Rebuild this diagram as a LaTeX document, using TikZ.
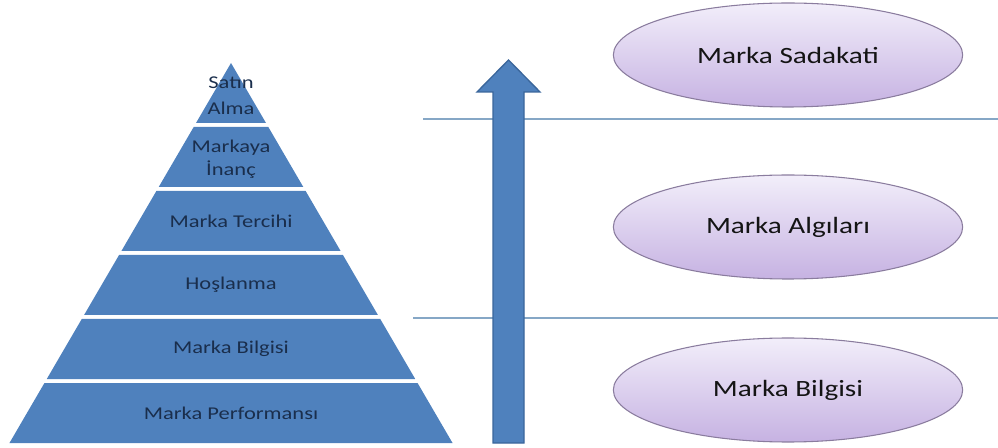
\documentclass[tikz,border=0pt]{standalone}
\usepackage{fontspec}
\setmainfont{Carlito}
\usetikzlibrary{shapes.geometric}
\definecolor{pyrblue}{HTML}{4F81BD}
\definecolor{pyredge}{HTML}{3A669B}
\definecolor{pyrink}{HTML}{1A2E4C}
\definecolor{sepblue}{HTML}{86A7C6}
\definecolor{lilactop}{HTML}{F2EEFA}
\definecolor{lilacbot}{HTML}{C6B2E2}
\definecolor{lilacedge}{HTML}{8A7C9E}
\newcommand{\wide}[1]{\scalebox{1.25}[1]{#1}}
\begin{document}
\begin{tikzpicture}[x=0.75pt,y=-0.75pt,
	pyrlabel/.style={text=pyrink,align=center,font=\fontsize{13.5}{17}\selectfont},
	oval/.style={ellipse,draw=lilacedge,line width=0.8pt,top color=lilactop,bottom color=lilacbot,
		minimum width=262pt,minimum height=78pt,inner sep=0pt,text=black!92,font=\fontsize{17.5}{21}\selectfont},
	sepline/.style={draw=sepblue,line width=1.1pt}]
	\useasboundingbox (0,0) rectangle (998,448);
	\fill[pyrblue] (231,63) -- (266,123) -- (196,123) -- cycle;
	\foreach \t/\b in {127/187,191/251,255/315,319/379,383/443}
		\fill[pyrblue] ({231-0.583*(\t-63)},\t) -- ({231+0.583*(\t-63)},\t) -- ({231+0.583*(\b-63)},\b) -- ({231-0.583*(\b-63)},\b) -- cycle;
	\node[pyrlabel,font=\fontsize{13.5}{19.5}\selectfont] at (231,96) (satin) {\wide{Satın}\\\wide{Alma}};
	\node[pyrlabel] at (231,159) (inanc) {\wide{Markaya}\\\wide{İnanç}};
	\node[pyrlabel] at (231,221) (tercih) {\wide{Marka Tercihi}};
	\node[pyrlabel] at (231,285) (hoslanma) {\wide{Hoşlanma}};
	\node[pyrlabel] at (231,349) (bilgi) {\wide{Marka Bilgisi}};
	\node[pyrlabel] at (231,413) (performans) {\wide{Marka Performansı}};
	\draw[sepline] (423,119) -- (998,119);
	\draw[sepline] (413,318) -- (998,318);
	\draw[fill=pyrblue,draw=pyredge,line width=1pt,line join=miter] (508.5,60) -- (540,92) -- (524,92) -- (524,443) -- (493,443) -- (493,92) -- (477,92) -- cycle;
	\node[oval] at (788,55) (sadakat) {\wide{Marka Sadakati}};
	\node[oval] at (788,227) (algi) {\wide{Marka Algıları}};
	\node[oval] at (788,390) (mbilgi) {\wide{Marka Bilgisi}};
\end{tikzpicture}
\end{document}
